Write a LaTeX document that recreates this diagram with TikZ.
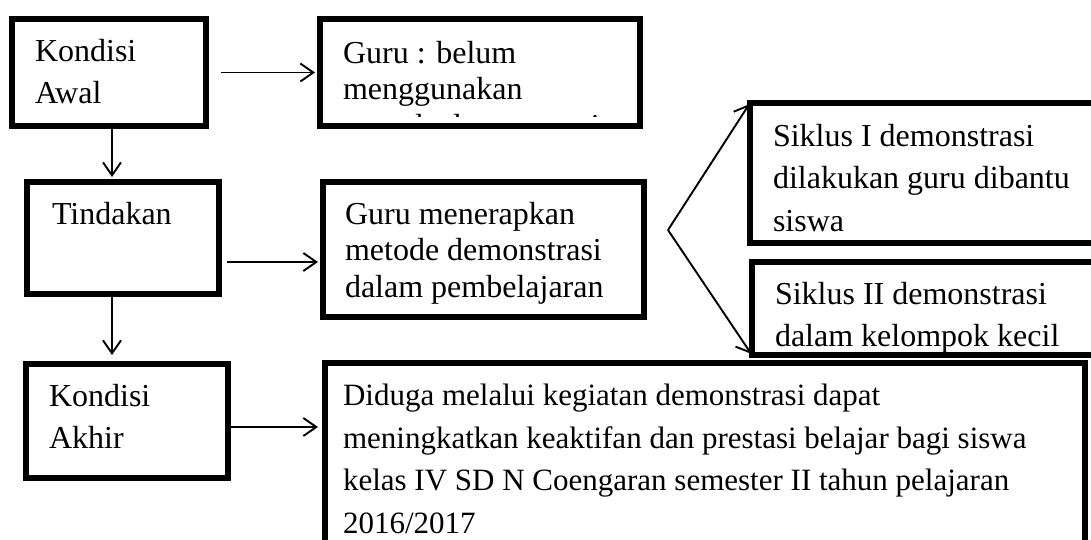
\documentclass[tikz,border=0pt]{standalone}
\usepackage{fontspec}
\setmainfont{Liberation Serif}
\usetikzlibrary{positioning,arrows.meta}

\begin{document}
\begin{tikzpicture}[x=1pt,y=1pt,
    kotak/.style={draw, line width=5.4pt, inner sep=0pt, outer sep=0pt, anchor=north west},
    isi/.style={inner sep=0pt, outer sep=0pt, align=left, font=\fontsize{32}{42.5}\selectfont},
    isirapat/.style={isi, font=\fontsize{32}{36.5}\selectfont},
    isibawah/.style={isi, font=\fontsize{31}{42.5}\selectfont},
    panah/.style={line width=1.9pt, -{Straight Barb[length=13pt,width=18pt]}}]
        \useasboundingbox (0,0) rectangle (1091,-539);
        \clip (0,0) rectangle (1091,-539);

        \node[kotak, minimum width=194pt, minimum height=107pt] (awal) at (12,-19) {};
        \node[kotak, minimum width=192pt, minimum height=112pt] (tind) at (27,-182) {};
        \node[kotak, minimum width=202pt, minimum height=114pt] (akhir) at (26,-364) {};
        \node[kotak, minimum width=320pt, minimum height=107pt] (belum) at (320,-19) {};
        \node[kotak, minimum width=321pt, minimum height=135pt] (mener) at (323,-182) {};
        \node[kotak, minimum width=360pt, minimum height=140pt] (sik1) at (750,-103) {};
        \node[kotak, minimum width=360pt, minimum height=93pt] (sik2) at (752,-262) {};
        \node[kotak, minimum width=760pt, minimum height=200pt] (duga) at (325,-363) {};

        \node[isi, below right=20pt and 23pt of awal.north west] (tawal) {Kondisi\\Awal};
        \node[isi, below right=20pt and 25pt of tind.north west] (ttind) {Tindakan};
        \node[isi, below right=20pt and 23pt of akhir.north west] (takhir) {Kondisi\\Akhir};
        \begin{scope}
            \clip (belum.north west) rectangle ([yshift=9.5pt]belum.south east);
            \node[isirapat, below right=22pt and 23pt of belum.north west] (tbelum) {Guru : belum\\menggunakan\\metode demonstrasi};
        \end{scope}
        \node[isirapat, below right=20pt and 22pt of mener.north west] (tmener) {Guru menerapkan\\metode demonstrasi\\dalam pembelajaran};
        \node[isi, below right=21pt and 23pt of sik1.north west] (tsik1) {Siklus I demonstrasi\\dilakukan guru dibantu\\siswa};
        \node[isi, below right=20pt and 23pt of sik2.north west] (tsik2) {Siklus II demonstrasi\\dalam kelompok kecil};
        \node[isibawah, below right=21pt and 18pt of duga.north west] (tduga) {Diduga melalui kegiatan demonstrasi dapat\\meningkatkan keaktifan dan prestasi belajar bagi siswa\\kelas IV SD N Coengaran semester II tahun pelajaran\\2016/2017};

        \coordinate (cabang) at ([xshift=24pt,yshift=19.5pt]mener.east);

        \draw[panah, shorten <=15pt, shorten >=5pt] (awal.east) -- (belum.west);
        \draw[panah, shorten >=5pt] ([xshift=3pt]awal.south) -- ([xshift=3pt]awal.south |- tind.north);
        \draw[panah, shorten <=8pt, shorten >=5pt] ([yshift=-24pt]tind.east) -- ([yshift=-24pt]tind.east -| mener.west);
        \draw[panah, shorten >=9pt] ([xshift=-11pt]tind.south) -- ([xshift=-11pt]tind.south |- akhir.north);
        \draw[panah, shorten >=7pt] ([yshift=-6pt]akhir.east) -- ([yshift=-6pt]akhir.east -| duga.west);
        \draw[panah, shorten >=1.5pt] (cabang) -- (sik1.north west);
        \draw[panah, shorten >=1.5pt] (cabang) -- (sik2.south west);
    \end{tikzpicture}
\end{document}
